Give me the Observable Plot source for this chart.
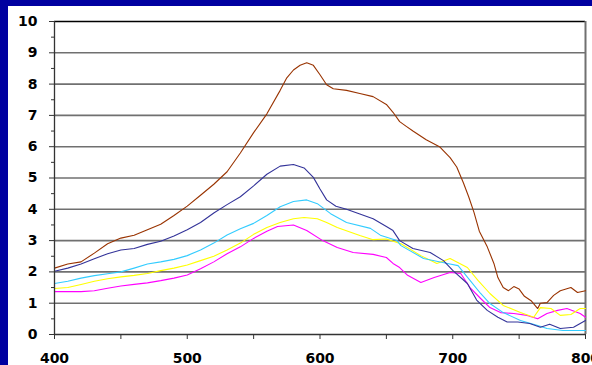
<!DOCTYPE html>
<html><head><meta charset="utf-8">
<script src="https://cdn.jsdelivr.net/npm/d3@7"></script>
<script src="https://cdn.jsdelivr.net/npm/@observablehq/plot@0.6"></script>
<style>
html,body{margin:0;padding:0;background:#0000a0;width:592px;height:365px;overflow:hidden}
#chart{position:absolute;left:8px;top:6px;width:584px;height:359px;background:#fff;overflow:hidden}
</style></head><body><div id="chart"></div>
<script>
// Spectra: [wavelength, value]
const brown = [[400,2.12],[410,2.25],[420,2.32],[430,2.6],[440,2.9],[450,3.08],[460,3.17],[470,3.35],[480,3.52],[490,3.8],[500,4.1],[510,4.45],[520,4.8],[530,5.2],[540,5.8],[550,6.45],[560,7.05],[570,7.8],[575,8.2],[580,8.45],[585,8.6],[590,8.68],[595,8.6],[600,8.3],[605,7.98],[610,7.85],[620,7.8],[630,7.7],[640,7.6],[650,7.35],[655,7.1],[660,6.8],[665,6.65],[670,6.5],[680,6.22],[690,6.0],[698,5.65],[703,5.35],[708,4.85],[712,4.4],[716,3.9],[720,3.3],[726,2.8],[731,2.27],[734,1.82],[738,1.5],[742,1.4],[746,1.53],[750,1.45],[754,1.22],[759,1.08],[764,0.83],[766,1.0],[771,1.02],[776,1.25],[781,1.4],[789,1.5],[794,1.34],[800,1.4]];
const navy = [[400,2.02],[410,2.12],[420,2.25],[430,2.42],[440,2.58],[450,2.7],[460,2.75],[470,2.88],[480,2.98],[490,3.15],[500,3.35],[510,3.58],[520,3.88],[530,4.15],[540,4.4],[550,4.75],[560,5.12],[570,5.38],[580,5.43],[588,5.32],[595,5.02],[600,4.65],[605,4.3],[612,4.1],[620,4.0],[630,3.85],[640,3.7],[650,3.45],[655,3.32],[660,3.0],[670,2.75],[683,2.62],[693,2.36],[700,2.05],[711,1.63],[718,1.1],[726,0.77],[734,0.55],[741,0.4],[749,0.4],[758,0.35],[766,0.23],[773,0.33],[781,0.19],[791,0.23],[796,0.35],[800,0.45]];
const cyan = [[400,1.63],[410,1.7],[420,1.8],[430,1.88],[440,1.94],[450,2.0],[460,2.12],[470,2.25],[480,2.32],[490,2.4],[500,2.52],[510,2.7],[520,2.92],[530,3.18],[540,3.38],[550,3.55],[560,3.8],[570,4.08],[580,4.25],[590,4.3],[598,4.18],[608,3.86],[620,3.58],[638,3.39],[646,3.16],[658,3.0],[661,2.84],[678,2.43],[696,2.27],[704,2.2],[713,1.73],[721,1.31],[728,0.99],[738,0.7],[751,0.45],[764,0.29],[771,0.19],[783,0.13],[800,0.13]];
const yellow = [[400,1.47],[410,1.5],[420,1.6],[430,1.7],[440,1.78],[450,1.84],[460,1.89],[470,1.95],[480,2.04],[490,2.12],[500,2.22],[510,2.36],[520,2.5],[530,2.7],[540,2.92],[550,3.2],[560,3.42],[570,3.58],[580,3.7],[588,3.74],[598,3.7],[605,3.58],[613,3.42],[630,3.16],[640,3.03],[650,3.05],[658,2.94],[661,2.9],[676,2.52],[688,2.27],[698,2.43],[711,2.14],[719,1.73],[728,1.31],[738,0.93],[751,0.7],[761,0.55],[766,0.86],[774,0.83],[781,0.61],[789,0.64],[796,0.83],[800,0.83]];
const magenta = [[400,1.37],[410,1.37],[420,1.37],[430,1.4],[440,1.48],[450,1.55],[460,1.6],[470,1.65],[480,1.72],[490,1.8],[500,1.9],[510,2.1],[520,2.32],[530,2.58],[540,2.8],[550,3.07],[560,3.3],[568,3.45],[580,3.5],[590,3.32],[602,3.0],[613,2.78],[625,2.62],[640,2.56],[650,2.46],[655,2.27],[660,2.14],[666,1.89],[676,1.66],[686,1.82],[698,1.98],[706,1.95],[713,1.5],[721,1.15],[728,0.86],[736,0.7],[746,0.67],[756,0.61],[764,0.5],[771,0.67],[779,0.77],[786,0.83],[796,0.67],[800,0.55]];

const xLabelTicks = [400, 500, 600, 700, 800];
const xMinorTicks = [400, 450, 500, 550, 600, 650, 700, 750, 800];
const yLabelTicks = [0,1,2,3,4,5,6,7,8,9,10];
const yMinorTicks = [0.5,1.5,2.5,3.5,4.5,5.5,6.5,7.5,8.5,9.5];
const gridValues = [1,2,3,4,5,6,7,8,9];

const series = [
  {data: magenta, color: "#ff00ff"},
  {data: yellow, color: "#ffff00"},
  {data: cyan, color: "#33ccff"},
  {data: navy, color: "#333399"},
  {data: brown, color: "#993300"}
];

const font = {fontFamily: "DejaVu Sans, Verdana, sans-serif", fontSize: 14, fontWeight: "bold"};

const chart = Plot.plot({
  width: 584,
  height: 359,
  marginLeft: 46,
  marginRight: 7,
  marginTop: 15,
  marginBottom: 31,
  style: {background: "#fff", color: "#000", overflow: "visible"},
  x: {domain: [400, 800]},
  y: {domain: [0, 10]},
  marks: [
    Plot.ruleY(gridValues, {stroke: "#707070", strokeWidth: 1.6}),
    Plot.ruleY([10], {stroke: "#000", strokeWidth: 1.3}),
    Plot.ruleX([800], {stroke: "#707070", strokeWidth: 2}),
    ...series.map(s => Plot.line(s.data, {x: d => d[0], y: d => d[1], stroke: s.color, strokeWidth: 1.1, curve: "linear"})),
    Plot.ruleX([400], {stroke: "#333", strokeWidth: 1.3}),
    Plot.ruleY([0], {stroke: "#333", strokeWidth: 1.3}),
    Plot.axisY(yMinorTicks, {tickSize: 3, text: null, stroke: "#333", strokeOpacity: 1}),
    Plot.axisY(yLabelTicks, {tickSize: 5, tickPadding: 12, stroke: "#333", strokeOpacity: 1, ...font}),
    Plot.axisX(xMinorTicks, {tickSize: 5, text: null, stroke: "#333", strokeOpacity: 1}),
    Plot.axisX(xLabelTicks, {tickSize: 0, tickPadding: 19, ...font, label: null})
  ]
});
document.getElementById("chart").appendChild(chart);
</script></body></html>
